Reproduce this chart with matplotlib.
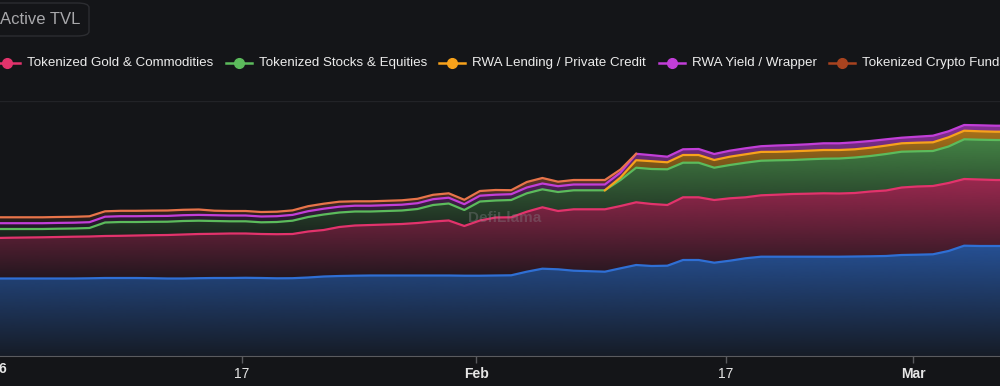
import numpy as np
import pandas as pd
import matplotlib
matplotlib.use('Agg')
import matplotlib.pyplot as plt
import matplotlib.dates as mdates
from matplotlib.lines import Line2D
from matplotlib.patches import FancyBboxPatch
from matplotlib.colors import to_rgb

# daily points, Jan 1 2026 -> Mar 7 2026 (values in $B, stacked bottom -> top)
dates = pd.date_range('2026-01-01 06:00', periods=66, freq='D')

treasuries = [7.75, 7.75, 7.75, 7.75, 7.75, 7.75, 7.77, 7.80, 7.80, 7.80,
              7.78, 7.75, 7.75, 7.78, 7.80, 7.80, 7.82, 7.80, 7.77, 7.78,
              7.85, 7.95, 8.00, 8.03, 8.05, 8.05, 8.05, 8.05, 8.05, 8.05,
              8.03, 8.03, 8.05, 8.07, 8.43, 8.73, 8.67, 8.53, 8.48, 8.43,
              8.77, 9.10, 9.00, 9.03, 9.60, 9.60, 9.33, 9.53, 9.77, 9.93,
              9.93, 9.93, 9.93, 9.93, 9.93, 9.95, 9.97, 10.00, 10.10, 10.13,
              10.17, 10.50, 11.03, 11.00, 11.00, 11.00]
gold = [4.05, 4.08, 4.10, 4.12, 4.15, 4.18, 4.18, 4.20, 4.22, 4.25,
        4.30, 4.35, 4.40, 4.42, 4.42, 4.45, 4.43, 4.40, 4.41, 4.42,
        4.60, 4.65, 4.90, 5.02, 5.05, 5.10, 5.15, 5.25, 5.40, 5.50,
        4.97, 5.52, 5.80, 5.80, 6.00, 6.14, 5.83, 6.14, 6.19, 6.24,
        6.23, 6.27, 6.20, 6.07, 6.27, 6.27, 6.27, 6.24, 6.10, 6.14,
        6.20, 6.27, 6.30, 6.34, 6.32, 6.35, 6.48, 6.55, 6.75, 6.82,
        6.83, 6.80, 6.67, 6.65, 6.60, 6.60]
stocks = [0.90, 0.87, 0.85, 0.83, 0.83, 0.82, 0.85, 1.35, 1.38, 1.35,
          1.34, 1.33, 1.35, 1.33, 1.28, 1.22, 1.22, 1.17, 1.22, 1.33,
          1.45, 1.55, 1.45, 1.40, 1.35, 1.35, 1.35, 1.40, 1.65, 1.70,
          1.60, 1.90, 1.70, 1.73, 1.84, 1.80, 1.90, 1.90, 1.90, 1.90,
          2.60, 3.46, 3.50, 3.57, 3.46, 3.46, 3.23, 3.33, 3.46, 3.46,
          3.44, 3.40, 3.44, 3.46, 3.50, 3.55, 3.55, 3.65, 3.58, 3.52,
          3.50, 3.65, 3.97, 3.98, 4.00, 4.00]
lending = [0, 0, 0, 0, 0, 0, 0, 0, 0, 0,
           0, 0, 0, 0, 0, 0, 0, 0, 0, 0,
           0, 0, 0, 0, 0, 0, 0, 0, 0, 0,
           0, 0, 0, 0, 0, 0, 0, 0, 0, 0,
           0.25, 0.75, 0.78, 0.70, 0.77, 0.77, 0.77, 0.83, 0.84, 0.88,
           0.85, 0.87, 0.86, 0.87, 0.85, 0.82, 0.83, 0.84, 0.84, 0.86,
           0.87, 0.92, 0.86, 0.84, 0.83, 0.83]
yield_wrap = [0.58, 0.58, 0.58, 0.58, 0.58, 0.58, 0.58, 0.58, 0.58, 0.58,
              0.58, 0.58, 0.58, 0.58, 0.58, 0.58, 0.58, 0.58, 0.58, 0.58,
              0.58, 0.58, 0.58, 0.58, 0.58, 0.58, 0.58, 0.58, 0.58, 0.58,
              0.58, 0.58, 0.58, 0.58, 0.58, 0.58, 0.58, 0.58, 0.58, 0.58,
              0.50, 0.64, 0.60, 0.56, 0.57, 0.60, 0.60, 0.60, 0.60, 0.57,
              0.63, 0.63, 0.64, 0.67, 0.67, 0.70, 0.67, 0.63, 0.56, 0.60,
              0.66, 0.60, 0.57, 0.60, 0.60, 0.60]
crypto_fund = [0.59, 0.59, 0.59, 0.59, 0.59, 0.59, 0.59, 0.54, 0.54, 0.54,
               0.54, 0.54, 0.54, 0.54, 0.45, 0.45, 0.45, 0.45, 0.45, 0.45,
               0.50, 0.50, 0.50, 0.44, 0.44, 0.44, 0.44, 0.44, 0.44, 0.44,
               0.44, 0.47, 0.47, 0.40, 0.55, 0.55, 0.45, 0.45, 0.45, 0.45,
               0.30, 0, 0, 0, 0, 0, 0, 0, 0, 0,
               0, 0, 0, 0, 0, 0, 0, 0, 0, 0,
               0, 0, 0, 0, 0, 0]

series = [treasuries, gold, stocks, lending, yield_wrap, crypto_fund]
line_cols = ['#2f6fd4', '#e2336c', '#5cbb5c', '#f7a21b', '#c23ed8', '#e8744a']
legend_names = ['Tokenized Gold & Commodities', 'Tokenized Stocks & Equities',
                'RWA Lending / Private Credit', 'RWA Yield / Wrapper', 'Tokenized Crypto Funds']
legend_cols = ['#e2336c', '#5cbb5c', '#f7a21b', '#c23ed8', '#a8431f']
tick_days = ['2026-01-01', '2026-01-17', '2026-02-01', '2026-02-17', '2026-03-01']
tick_labels = ['2026', '17', 'Feb', '17', 'Mar']

bg = '#141518'
plt.rcParams['font.family'] = ['Liberation Sans', 'DejaVu Sans']

fig = plt.figure(figsize=(10, 3.86), dpi=100, facecolor=bg)
ax = fig.add_axes([0, 1 - 356 / 386, 1, 255 / 386])
ax.set_facecolor(bg)

x = mdates.date2num(dates)
d0 = mdates.date2num(pd.Timestamp('2026-01-01'))
idx = np.arange(len(x))

lower = np.zeros(len(x))
for i, vals in enumerate(series):
    upper = lower + np.array(vals)
    poly = ax.fill_between(x, lower, upper, facecolor='none', edgecolor='none')
    # vertical gradient over the band's own bounding box (echarts style)
    rgb = to_rgb(line_cols[i])
    grad = np.zeros((256, 1, 4))
    grad[:, 0, :3] = rgb
    grad[:, 0, 3] = np.linspace(0.08, 0.66, 256)
    im = ax.imshow(grad, aspect='auto', origin='lower', interpolation='bilinear',
                   extent=[x[0], x[-1], lower.min(), upper.max()], zorder=1 + i * 0.1)
    im.set_clip_path(poly.get_paths()[0], poly.get_transform())
    # series only exist on part of the range
    if i == 3:
        mask = idx >= 39
    elif i == 5:
        mask = idx <= 41
    else:
        mask = idx >= 0
    ax.plot(x[mask], upper[mask], color=line_cols[i], lw=1.6, zorder=3 + i * 0.1)
    lower = upper

ax.axhline(25.5, color='#222327', lw=1, zorder=0)

ax.set_xticks(mdates.date2num([pd.Timestamp(t) for t in tick_days]))
ax.set_xticklabels(tick_labels)
for lab, bold in zip(ax.get_xticklabels(), [True, False, True, False, True]):
    lab.set_fontweight('bold' if bold else 'normal')
ax.tick_params(axis='x', colors='#5a5b5f', length=5, width=1, labelsize=10, labelcolor='#e6e6e6', pad=3)
ax.set_yticks([])
# limits after ticks so the Jan 1 tick does not widen the view
ax.set_xlim(d0 + 8.2 / 15.62, d0 + 1008.2 / 15.62)
ax.set_ylim(0, 25.5)
for s in ['top', 'left', 'right']:
    ax.spines[s].set_visible(False)
ax.spines['bottom'].set_color('#5a5b5f')
# year label of the Jan 1 tick, which sits just past the left edge
ax.text(d0, -13 / 255, tick_labels[0], transform=ax.get_xaxis_transform(), ha='center', va='center',
        color='#e6e6e6', fontsize=10, fontweight='bold', clip_on=False)

# watermark
fig.text(505 / 1000, 1 - 218 / 386, 'DefiLlama', color='#8a8a8e', alpha=0.35, fontsize=11,
         fontweight='bold', ha='center', va='center')

# "Active TVL" button
fig.patches.append(FancyBboxPatch((-20 / 1000, 1 - 36 / 386), 109 / 1000, 33 / 386,
                                  boxstyle='round,pad=0,rounding_size=0.012', transform=fig.transFigure,
                                  facecolor=bg, edgecolor='#2c2d31', lw=1))
fig.text(0 / 1000, 1 - 19 / 386, 'Active TVL', color='#a8a8ab', fontsize=12, ha='left', va='center')

# legend
cx = [7, 239, 452, 672, 842]
for c, name, col in zip(cx, legend_names, legend_cols):
    yy = 1 - 63 / 386
    fig.add_artist(Line2D([(c - 13) / 1000, (c + 13) / 1000], [yy, yy], color=col, lw=1.8,
                          transform=fig.transFigure))
    fig.add_artist(Line2D([c / 1000], [yy], color=col, marker='o', markersize=7,
                          transform=fig.transFigure))
    fig.text((c + 20) / 1000, yy, name, color='#ececec', fontsize=9.6, ha='left', va='center')

plt.savefig('out.png', dpi=100, facecolor=bg)
